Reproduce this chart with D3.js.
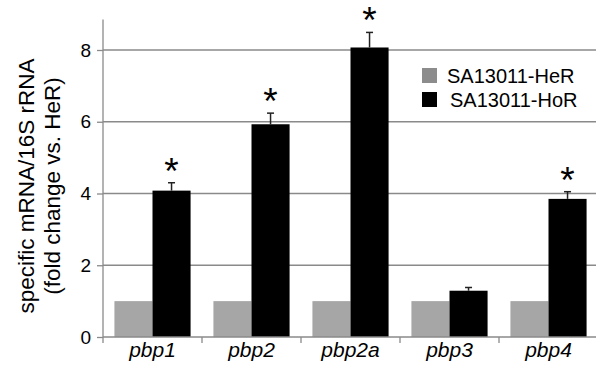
<!DOCTYPE html>
<html>
<head>
<meta charset="utf-8">
<script src="https://cdn.jsdelivr.net/npm/d3@7"></script>
<style>
  body { margin: 0; background: #fff; }
  text { font-family: "Liberation Sans", Arial, sans-serif; }
</style>
</head>
<body>
<svg id="chart" width="596" height="372"></svg>
<script>
// data
const genes = ["pbp1", "pbp2", "pbp2a", "pbp3", "pbp4"];
const series = ["SA13011-HeR", "SA13011-HoR"];
const herValues = [1, 1, 1, 1, 1];
const horValues = [4.08, 5.93, 8.07, 1.29, 3.85];
const horErrors = [0.22, 0.31, 0.42, 0.09, 0.20];
const significant = [true, true, true, false, true];
const yTicks = [0, 2, 4, 6, 8];

const colors = { "SA13011-HeR": "#a6a6a6", "SA13011-HoR": "#000000" };
const legendColors = { "SA13011-HeR": "#8c8c8c", "SA13011-HoR": "#000000" };

const svg = d3.select("#chart");
const left = 103, right = 598, bottom = 337;

const x0 = d3.scaleBand().domain(genes).range([left, right]);
const x1 = d3.scaleBand().domain(series).range([0, x0.bandwidth()]).paddingOuter(0.3);
const y = d3.scaleLinear().domain([0, 8]).range([bottom, 50]);

// gridlines
svg.append("g")
  .selectAll("line")
  .data(yTicks.filter(d => d > 0))
  .enter().append("line")
  .attr("x1", left).attr("x2", right)
  .attr("y1", d => y(d)).attr("y2", d => y(d))
  .attr("stroke", "#8a8a8a").attr("stroke-width", 1.3);

// bars
const rows = genes.map((g, i) => ({ gene: g, her: herValues[i], hor: horValues[i], err: horErrors[i], sig: significant[i] }));

const groups = svg.append("g").selectAll("g")
  .data(rows)
  .enter().append("g")
  .attr("transform", d => `translate(${x0(d.gene)},0)`);

groups.append("rect")
  .attr("x", x1("SA13011-HeR"))
  .attr("y", d => y(d.her))
  .attr("width", x1.bandwidth())
  .attr("height", d => bottom - y(d.her))
  .attr("fill", colors["SA13011-HeR"]);

groups.append("rect")
  .attr("x", x1("SA13011-HoR"))
  .attr("y", d => y(d.hor))
  .attr("width", x1.bandwidth())
  .attr("height", d => bottom - y(d.hor))
  .attr("fill", colors["SA13011-HoR"]);

// error bars (upper only)
const cx = x1("SA13011-HoR") + x1.bandwidth() / 2;
groups.append("line")
  .attr("x1", cx).attr("x2", cx)
  .attr("y1", d => y(d.hor)).attr("y2", d => y(d.hor + d.err))
  .attr("stroke", "#222").attr("stroke-width", 1.5);
groups.append("line")
  .attr("x1", cx - 3.5).attr("x2", cx + 3.5)
  .attr("y1", d => y(d.hor + d.err)).attr("y2", d => y(d.hor + d.err))
  .attr("stroke", "#222").attr("stroke-width", 1.5);

// asterisks
groups.filter(d => d.sig).append("text")
  .attr("x", cx)
  .attr("y", d => y(d.hor + d.err) + 1)
  .attr("text-anchor", "middle")
  .attr("font-size", "37px")
  .text("*");

// axes
const yAxis = svg.append("g")
  .attr("transform", `translate(${left},0)`)
  .call(d3.axisLeft(y).tickValues(yTicks).tickSize(6).tickPadding(6));
yAxis.select(".domain").remove();
yAxis.append("line")
  .attr("x1", 0).attr("x2", 0)
  .attr("y1", bottom).attr("y2", y(8.85))
  .attr("stroke", "#8a8a8a").attr("stroke-width", 1.3);
yAxis.selectAll(".tick line").attr("stroke", "#8a8a8a").attr("stroke-width", 1.3);
yAxis.selectAll(".tick text")
  .attr("font-size", "19px").attr("fill", "#000")
  .attr("font-family", "Liberation Sans, Arial, sans-serif");

const xAxis = svg.append("g")
  .attr("transform", `translate(0,${bottom})`);
xAxis.append("line")
  .attr("x1", left).attr("x2", right)
  .attr("stroke", "#8a8a8a").attr("stroke-width", 1.3);
xAxis.selectAll("line.tk")
  .data(genes)
  .enter().append("line")
  .attr("class", "tk")
  .attr("x1", d => x0(d)).attr("x2", d => x0(d))
  .attr("y1", 0).attr("y2", 6)
  .attr("stroke", "#8a8a8a").attr("stroke-width", 1.3);
xAxis.selectAll("text")
  .data(genes)
  .enter().append("text")
  .attr("x", d => x0(d) + x0.bandwidth() / 2)
  .attr("y", 20)
  .attr("text-anchor", "middle")
  .attr("font-size", "21px")
  .attr("font-style", "italic")
  .text(d => d);

// y title
const title = svg.append("text")
  .attr("transform", "translate(34,186) rotate(-90)")
  .attr("text-anchor", "middle")
  .attr("font-size", "22.5px");
title.append("tspan").attr("x", 0).attr("dy", 0).text("specific mRNA/16S rRNA");
title.append("tspan").attr("x", 0).attr("dy", 26).text("(fold change vs. HeR)");

// legend
const legend = svg.append("g")
  .selectAll("g")
  .data(series)
  .enter().append("g")
  .attr("transform", (d, i) => `translate(422,${68 + i * 24})`);
legend.append("rect")
  .attr("width", 15).attr("height", 15)
  .attr("fill", d => legendColors[d]);
legend.append("text")
  .attr("x", (d, i) => 25 + i * 3)
  .attr("y", 14.5)
  .attr("font-size", "20px")
  .text(d => d);
</script>
</body>
</html>
